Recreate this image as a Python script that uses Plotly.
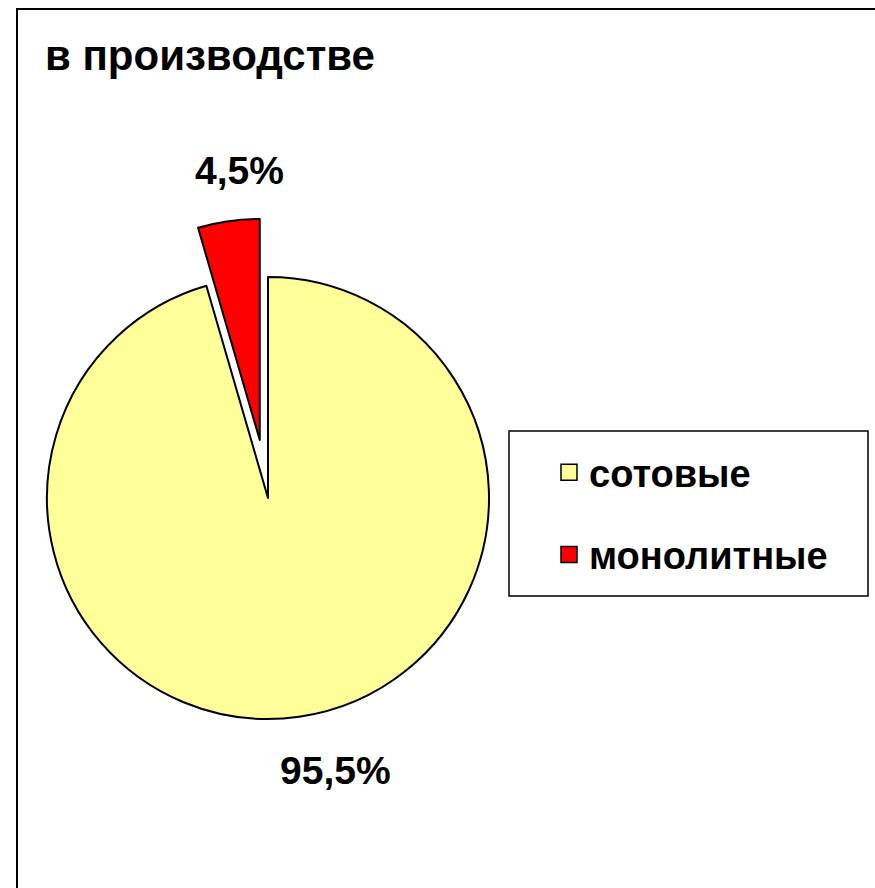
import numpy as np
import plotly.graph_objects as go

# ---- data ----
labels = ["сотовые", "монолитные"]
values = [95.5, 4.5]
colors = ["#FFFF99", "#FF0000"]
title_text = "в производстве"

# ---- layout constants (px) ----
W, H = 875, 888
CX, CY, R = 268, 498, 221          # pie centre / radius
PULL = 0.265                        # exploded fraction of the red slice
FONT = "Liberation Sans, Arial, sans-serif"
TRANSP = "rgba(0,0,0,0)"


def dom(cx, cy, r):
    return dict(x=[(cx - r) / W, (cx + r) / W],
                y=[1 - (cy + r) / H, 1 - (cy - r) / H])


total = float(sum(values))
frac = np.array(values) / total
start = np.concatenate([[0], np.cumsum(frac)[:-1]])
mid = (start + frac / 2) * 2 * np.pi          # clockwise from 12 o'clock
dx = PULL * R * np.sin(mid[1])
dy = -PULL * R * np.cos(mid[1])

fig = go.Figure()

# main (yellow) slice
fig.add_trace(go.Pie(
    labels=labels, values=values, sort=False, direction="clockwise", rotation=0,
    marker=dict(colors=[colors[0], TRANSP],
                line=dict(color="black", width=[2, 0])),
    textinfo="none", showlegend=False, domain=dom(CX, CY, R),
    hoverinfo="label+percent",
))
# exploded (red) slice
fig.add_trace(go.Pie(
    labels=labels, values=values, sort=False, direction="clockwise", rotation=0,
    marker=dict(colors=[TRANSP, colors[1]],
                line=dict(color="black", width=[0, 2])),
    textinfo="none", showlegend=False, domain=dom(CX + dx, CY + dy, R),
    hoverinfo="label+percent",
))

# legend entries
for lab, col in zip(labels, colors):
    fig.add_trace(go.Scatter(
        x=[None], y=[None], mode="markers", name=lab, legendgroup=lab,
        marker=dict(symbol="square", size=16, color=col,
                    line=dict(color="black", width=1.5)),
        hoverinfo="skip",
    ))

# percentage labels
def pct(v):
    return f"{v / total * 100:.1f}%".replace(".", ",")

label_pos = [(335, 770), (239, 171)]
annotations = []
for v, (px, py) in zip(values, label_pos):
    annotations.append(dict(
        x=px / W, y=1 - py / H, xref="paper", yref="paper", text=pct(v),
        showarrow=False, xanchor="center", yanchor="middle",
        font=dict(family=FONT, size=39, color="black", weight="bold"),
    ))

shapes = [
    # outer chart frame
    dict(type="rect", xref="paper", yref="paper", x0=17 / W, x1=1.05,
         y0=1 - 9 / H, y1=-0.05, line=dict(color="black", width=2)),
    # legend box
    dict(type="rect", xref="paper", yref="paper", x0=509 / W, x1=868 / W,
         y0=1 - 431 / H, y1=1 - 596 / H, line=dict(color="black", width=1.5)),
]

fig.update_layout(
    width=W, height=H, margin=dict(l=0, r=0, t=0, b=0),
    paper_bgcolor="white", plot_bgcolor="white",
    title=dict(text=title_text, x=45 / W, xanchor="left", xref="container",
               y=1 - 55 / H, yanchor="middle", yref="container",
               font=dict(family=FONT, size=42, color="black", weight="bold")),
    xaxis=dict(visible=False), yaxis=dict(visible=False),
    legend=dict(x=549 / W, xanchor="left", y=1 - 441 / H, yanchor="top",
                tracegroupgap=30, bgcolor=TRANSP, borderwidth=0,
                font=dict(family=FONT, size=38, color="black", weight="bold")),
    annotations=annotations, shapes=shapes,
)

fig.write_html(
    "out.html",
    config={"displayModeBar": False},
    post_script="document.body.style.margin='0';document.body.style.overflow='hidden';",
)
